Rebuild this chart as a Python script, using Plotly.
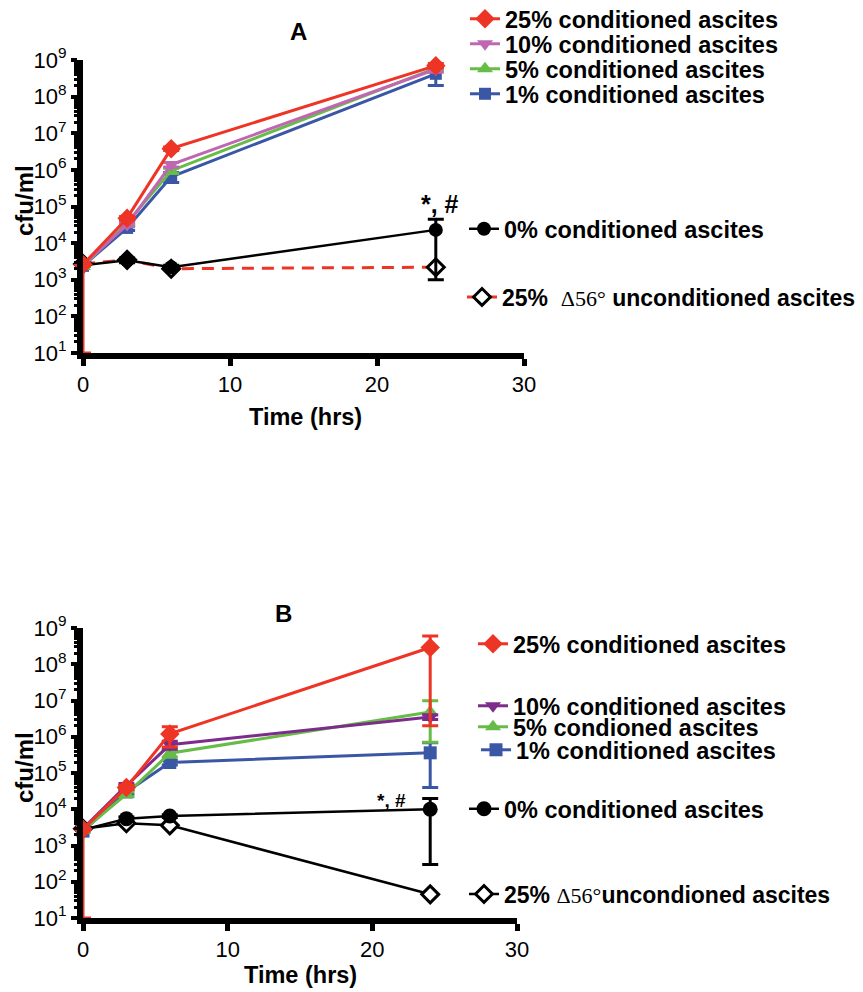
import plotly.graph_objects as go

W, H = 863, 992

# ---------------- data ----------------
time_h = [0, 3, 6, 24]

# Panel A
a_25 = [2.6e3, 4.8e4, 3.8e6, 7.0e8]
a_10 = [2.5e3, 3.2e4, 1.4e6, 5.6e8]
a_5 = [2.3e3, 3.6e4, 9.5e5, 6.0e8]
a_1 = [2.4e3, 2.6e4, 6.5e5, 4.2e8]
a_0 = [2.5e3, 3.4e3, 2.2e3, 2.3e4]
a_d56 = [2.7e3, 3.5e3, 2.0e3, 2.2e3]

a_25_err_up = [0, 5e3, 4e5, 1.0e8]
a_25_err_dn = [2.59e3, 5e3, 4e5, 1.0e8]
a_10_err = [0, 4e3, 2e5, 1.0e8]
a_5_err = [0, 4e3, 1.5e5, 1.0e8]
a_1_err = [0, 4e3, 2e5, 2.2e8]
a_0_err = [0, 5e2, 3e2, 2.2e4]

# Panel B
b_25 = [2.8e3, 4.0e4, 1.2e6, 2.9e8]
b_10 = [2.9e3, 4.5e4, 6.0e5, 3.5e6]
b_5 = [2.6e3, 2.6e4, 3.5e5, 4.8e6]
b_1 = [2.5e3, 3.0e4, 1.95e5, 3.6e5]
b_0 = [2.7e3, 5.5e3, 6.5e3, 1.0e4]
b_d56 = [2.9e3, 4.1e3, 3.6e3, 45]

b_25_err_up = [0, 5e3, 6.8e5, 3.1e8]
b_25_err_dn = [2.79e3, 5e3, 6.8e5, 2.88e8]
b_10_err = [0, 5e3, 1.5e5, 5e5]
b_5_err_up = [0, 4e3, 8e4, 5.0e6]
b_5_err_dn = [0, 4e3, 8e4, 4.1e6]
b_1_err = [0, 4e3, 3e4, 3.2e5]
b_0_err = [0, 6e2, 6e2, 9.7e3]

tick_vals = [10 ** k for k in range(1, 10)]
tick_text = ["10<sup>%d</sup>" % k for k in range(1, 10)]
x_ticks = [0, 10, 20, 30]

SERIF = '<span style="font-family:Liberation Serif;font-weight:normal;font-size:22px">\u039456\u00b0</span>'
names_a = ["25% conditioned ascites", "10% conditioned ascites", "5% conditioned ascites",
           "1% conditioned ascites", "0% conditioned ascites",
           "25%  " + SERIF + " unconditioned ascites"]
names_b = ["25% conditioned ascites", "10% conditioned ascites", "5% condioned ascites",
           "1% conditioned ascites", "0% conditioned ascites",
           "25% " + SERIF + "uncondioned ascites"]

RED = "#EE3425"
PINK = "#C067B3"
PURPLE = "#7D2C8C"
GREEN = "#66BC46"
BLUE = "#3A57A6"
BLACK = "#000000"

FONT = "Liberation Sans, Arial, sans-serif"

fig = go.Figure()


def px_x(p):
    return p / W


def px_y(p):
    return 1 - p / H


def add(x, y, name, color, symbol, size, xa, ya, leg, err_up=None, err_dn=None,
        dash="solid", mfill=None, mline=None, lw=3, ecolor=None):
    err = None
    if err_up is not None:
        err = dict(type="data", array=err_up,
                   arrayminus=err_dn if err_dn is not None else err_up,
                   symmetric=False, thickness=3, width=8,
                   color=ecolor if ecolor else color)
    fig.add_trace(go.Scatter(
        x=x, y=y, name=name, mode="lines+markers",
        xaxis=xa, yaxis=ya, legend=leg, cliponaxis=False,
        line=dict(color=color, width=lw, dash=dash),
        marker=dict(symbol=symbol, size=size,
                    color=mfill if mfill else color,
                    line=dict(color=mline if mline else color, width=3 if mline else 0)),
        error_y=err,
    ))


# Panel A traces (bottom to top)
add(time_h, a_d56, names_a[5], RED, "diamond", 13, "x", "y", "legend6",
    dash="12px,8px", mfill="white", mline=BLACK)
add(time_h, a_0, names_a[4], BLACK, "circle", 14, "x", "y", "legend5", a_0_err, lw=2.5)
add(time_h, a_1, names_a[3], BLUE, "square", 12, "x", "y", "legend4", a_1_err)
add(time_h, a_5, names_a[2], GREEN, "triangle-up", 14, "x", "y", "legend3", a_5_err)
add(time_h, a_10, names_a[1], PINK, "triangle-down", 14, "x", "y", "legend2", a_10_err)
add(time_h, a_25, names_a[0], RED, "diamond", 15, "x", "y", "legend", a_25_err_up, a_25_err_dn)

# Panel B traces
add(time_h, b_d56, names_b[5], BLACK, "diamond", 13, "x2", "y2", "legend12",
    mfill="white", mline=BLACK, lw=2.5)
add(time_h, b_0, names_b[4], BLACK, "circle", 15, "x2", "y2", "legend11", b_0_err, lw=2.5)
add(time_h, b_1, names_b[3], BLUE, "square", 13, "x2", "y2", "legend10", b_1_err)
add(time_h, b_5, names_b[2], GREEN, "triangle-up", 14, "x2", "y2", "legend9", b_5_err_up, b_5_err_dn)
add(time_h, b_10, names_b[1], PURPLE, "triangle-down", 14, "x2", "y2", "legend8", b_10_err)
add(time_h, b_25, names_b[0], RED, "diamond", 15, "x2", "y2", "legend7", b_25_err_up, b_25_err_dn)

axis_common = dict(showgrid=False, zeroline=False, showline=True, linecolor=BLACK,
                   linewidth=6, ticks="outside", tickcolor=BLACK, automargin=False,
                   tickfont=dict(family=FONT, size=22, color=BLACK))

xa = dict(axis_common, range=[0, 30], tickvals=x_ticks, ticklen=7, tickwidth=5)
ya = dict(axis_common, type="log", range=[1, 9], tickvals=tick_vals, ticktext=tick_text,
          ticklen=6, tickwidth=4,
          minor=dict(ticks="outside", ticklen=3, tickwidth=3, tickcolor=BLACK, dtick="D1"))

layout = dict(
    width=W, height=H, margin=dict(l=0, r=0, t=0, b=0, autoexpand=False),
    paper_bgcolor="white", plot_bgcolor="white",
    font=dict(family=FONT, color=BLACK),
    xaxis=dict(xa, domain=[px_x(83), px_x(524)], anchor="y"),
    yaxis=dict(ya, domain=[px_y(353), px_y(60)], anchor="x"),
    xaxis2=dict(xa, domain=[px_x(83), px_x(517)], anchor="y2"),
    yaxis2=dict(ya, domain=[px_y(918), px_y(628)], anchor="x2"),
)

# legends: (id, left px, center y px, font size)
legend_pos = {
    "legend": (465, 19, 23.5), "legend2": (465, 44, 23.5), "legend3": (465, 69, 23.5),
    "legend4": (465, 94, 23.5), "legend5": (464, 229, 23.5), "legend6": (462, 297, 23),
    "legend7": (473, 644, 23.5), "legend8": (473, 706, 23.5), "legend9": (473, 727, 23.5),
    "legend10": (476, 750, 23.5), "legend11": (464, 809, 23.5), "legend12": (464, 894, 23),
}
for lid, (lx, ly, fs) in legend_pos.items():
    layout[lid] = dict(x=px_x(lx), y=px_y(ly), xanchor="left", yanchor="middle",
                       xref="paper", yref="paper", bgcolor="rgba(0,0,0,0)",
                       font=dict(family=FONT, size=fs, color=BLACK, weight="bold"),
                       itemclick=False, itemdoubleclick=False)

fig.update_layout(**layout)

ann = []


def label(text, x, y, size, bold=True, angle=0):
    ann.append(dict(text=text, x=px_x(x), y=px_y(y), xref="paper", yref="paper",
                    showarrow=False, textangle=angle, xanchor="center", yanchor="middle",
                    font=dict(family=FONT, size=size, color=BLACK,
                              weight="bold" if bold else "normal")))


label("A", 298, 32, 24)
label("B", 283, 613, 24)
label("cfu/ml", 24, 201, 24, angle=-90)
label("cfu/ml", 24, 768, 24, angle=-90)
label("Time (hrs)", 305, 417, 23.5)
label("Time (hrs)", 300, 975, 23.5)
label("*, #", 440, 204, 25)
label("*, #", 391, 800, 19)

fig.update_layout(annotations=ann, showlegend=True)

fig.write_html("out.html", config={"displayModeBar": False},
               post_script="document.body.style.margin='0';")
